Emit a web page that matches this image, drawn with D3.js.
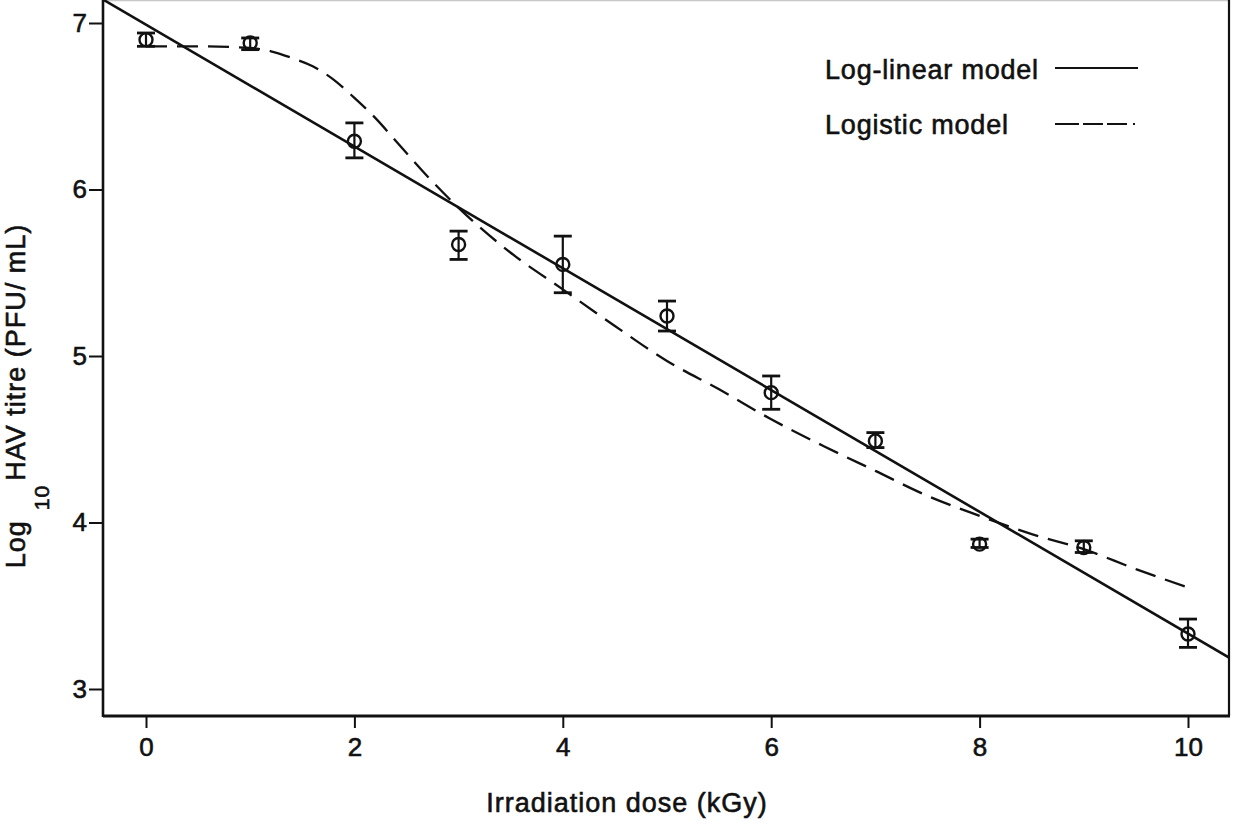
<!DOCTYPE html>
<html lang="en">
<head>
    <meta charset="UTF-8">
    <script src="https://d3js.org/d3.v7.min.js"></script>
    <style>
        body {
            margin: 0;
            background-color: #fff;
            font-family: "Liberation Sans", Arial, sans-serif;
        }
        text {
            fill: #111;
            stroke: #111;
            stroke-width: 0.6px;
        }
    </style>
</head>
<body>

    <div id="chart"></div>

    <script>
        // Dose points and measured titres (log10 PFU/mL)
        const doses = [0, 1, 2, 3, 4, 5, 6, 7, 8, 9, 10];
        const meanTitre = [6.90, 6.88, 6.29, 5.67, 5.55, 5.24, 4.78, 4.49, 3.87, 3.85, 3.33];
        const errLow = [6.86, 6.84, 6.19, 5.58, 5.38, 5.15, 4.68, 4.45, 3.85, 3.82, 3.25];
        const errHigh = [6.94, 6.91, 6.40, 5.75, 5.72, 5.33, 4.88, 4.54, 3.90, 3.89, 3.42];

        // Log-linear model (straight line, ends at the frame)
        const linDose = [-0.41, 10.39];
        const linTitre = [7.14, 3.19];

        // Logistic model curve
        const logiDose = [0, 0.5, 1.0, 1.2, 1.4, 1.6, 1.8, 2.0, 2.2, 2.4, 2.7, 3.0, 3.5, 4.0, 4.5, 5.0, 5.5, 6.0, 6.5, 7.0, 7.5, 8.0, 8.5, 9.0, 9.5, 10.0];
        const logiTitre = [6.86, 6.86, 6.85, 6.83, 6.79, 6.74, 6.66, 6.55, 6.43, 6.29, 6.08, 5.89, 5.62, 5.40, 5.18, 4.97, 4.80, 4.62, 4.46, 4.31, 4.16, 4.04, 3.93, 3.84, 3.72, 3.61];

        const xTicks = [0, 2, 4, 6, 8, 10];
        const yTicks = [3, 4, 5, 6, 7];

        const width = 1235, height = 824;
        const frame = { left: 103, right: 1229, top: 0, bottom: 716 };

        const svg = d3.select("#chart")
            .append("svg")
            .attr("width", width)
            .attr("height", height);

        const x = d3.scaleLinear().domain([0, 10]).range([146, 1188]);
        const y = d3.scaleLinear().domain([3, 7]).range([689, 23]);

        svg.append("clipPath")
            .attr("id", "plotClip")
            .append("rect")
            .attr("x", frame.left)
            .attr("y", frame.top)
            .attr("width", frame.right - frame.left)
            .attr("height", frame.bottom - frame.top);

        // Frame: top edge is faint in the scan
        svg.append("line")
            .attr("x1", frame.left).attr("x2", frame.right)
            .attr("y1", 0.5).attr("y2", 0.5)
            .attr("stroke", "#c8c8c8").attr("stroke-width", 1.5);
        svg.append("line")
            .attr("x1", frame.right).attr("x2", frame.right)
            .attr("y1", 0).attr("y2", frame.bottom)
            .attr("stroke", "#111").attr("stroke-width", 2.2);
        svg.append("line")
            .attr("x1", frame.left).attr("x2", frame.left)
            .attr("y1", 0).attr("y2", frame.bottom + 1)
            .attr("stroke", "#111").attr("stroke-width", 2.6);
        svg.append("line")
            .attr("x1", frame.left).attr("x2", frame.right + 1)
            .attr("y1", frame.bottom).attr("y2", frame.bottom)
            .attr("stroke", "#111").attr("stroke-width", 3);

        // Axes
        const yAxis = svg.append("g")
            .attr("transform", `translate(${frame.left},0)`)
            .call(d3.axisLeft(y).tickValues(yTicks).tickFormat(d3.format("d")).tickSize(14).tickPadding(2));
        yAxis.select(".domain").remove();
        yAxis.selectAll("line").attr("stroke", "#111").attr("stroke-width", 2);
        yAxis.selectAll("text")
            .style("font-size", "26px")
            .style("font-family", "'Liberation Sans', Arial, sans-serif")
            .attr("fill", "#111");

        const xAxis = svg.append("g")
            .attr("transform", `translate(0,${frame.bottom})`)
            .call(d3.axisBottom(x).tickValues(xTicks).tickFormat(d3.format("d")).tickSize(12).tickPadding(10));
        xAxis.select(".domain").remove();
        xAxis.selectAll("line").attr("stroke", "#111").attr("stroke-width", 2);
        xAxis.selectAll("text")
            .style("font-size", "26px")
            .style("font-family", "'Liberation Sans', Arial, sans-serif")
            .attr("fill", "#111");

        // Axis titles
        svg.append("text")
            .attr("x", 627)
            .attr("y", 812)
            .attr("text-anchor", "middle")
            .style("font-size", "27px")
            .style("letter-spacing", "1px")
            .text("Irradiation dose (kGy)");

        const yLabel = svg.append("text")
            .attr("transform", "translate(25,396) rotate(-90)")
            .attr("text-anchor", "middle")
            .style("font-size", "27px")
            .style("letter-spacing", "1px");
        yLabel.append("tspan").text("Log");
        yLabel.append("tspan").attr("dx", 10).attr("dy", 24).style("font-size", "21px").text("10");
        yLabel.append("tspan").attr("dx", 4).attr("dy", -24).text("HAV titre (PFU/ mL)");

        const plot = svg.append("g").attr("clip-path", "url(#plotClip)");

        // Log-linear model
        const linData = linDose.map((d, i) => ({ dose: d, titre: linTitre[i] }));
        plot.append("path")
            .datum(linData)
            .attr("fill", "none")
            .attr("stroke", "#111")
            .attr("stroke-width", 2.6)
            .attr("d", d3.line().x(d => x(d.dose)).y(d => y(d.titre)));

        // Logistic model
        const logiData = logiDose.map((d, i) => ({ dose: d, titre: logiTitre[i] }));
        plot.append("path")
            .datum(logiData)
            .attr("fill", "none")
            .attr("stroke", "#111")
            .attr("stroke-width", 2.3)
            .attr("stroke-dasharray", "21 10")
            .attr("d", d3.line().curve(d3.curveMonotoneX).x(d => x(d.dose)).y(d => y(d.titre)));

        // Points with error bars
        const points = doses.map((d, i) => ({ dose: d, mean: meanTitre[i], lo: errLow[i], hi: errHigh[i] }));
        const capW = 9;

        const pt = plot.selectAll(".pt")
            .data(points)
            .enter()
            .append("g")
            .attr("class", "pt");

        pt.append("line")
            .attr("x1", d => x(d.dose)).attr("x2", d => x(d.dose))
            .attr("y1", d => y(d.hi)).attr("y2", d => y(d.lo))
            .attr("stroke", "#111").attr("stroke-width", 2.2);
        pt.append("line")
            .attr("x1", d => x(d.dose) - capW).attr("x2", d => x(d.dose) + capW)
            .attr("y1", d => y(d.hi)).attr("y2", d => y(d.hi))
            .attr("stroke", "#111").attr("stroke-width", 2.8);
        pt.append("line")
            .attr("x1", d => x(d.dose) - capW).attr("x2", d => x(d.dose) + capW)
            .attr("y1", d => y(d.lo)).attr("y2", d => y(d.lo))
            .attr("stroke", "#111").attr("stroke-width", 2.8);
        pt.append("circle")
            .attr("cx", d => x(d.dose))
            .attr("cy", d => y(d.mean))
            .attr("r", 6.5)
            .attr("fill", "none")
            .attr("stroke", "#111")
            .attr("stroke-width", 2.4);

        // Legend
        const legend = svg.append("g");
        legend.append("text")
            .attr("x", 825).attr("y", 79)
            .style("font-size", "27px")
            .style("letter-spacing", "0.8px")
            .text("Log-linear model");
        legend.append("line")
            .attr("x1", 1055).attr("x2", 1138)
            .attr("y1", 68).attr("y2", 68)
            .attr("stroke", "#111").attr("stroke-width", 2);
        legend.append("text")
            .attr("x", 825).attr("y", 134)
            .style("font-size", "27px")
            .style("letter-spacing", "0.8px")
            .text("Logistic model");
        legend.append("line")
            .attr("x1", 1055).attr("x2", 1138)
            .attr("y1", 124).attr("y2", 124)
            .attr("stroke", "#111").attr("stroke-width", 2)
            .attr("stroke-dasharray", "24 4 20 4 20 6 2");
    </script>

</body>
</html>
